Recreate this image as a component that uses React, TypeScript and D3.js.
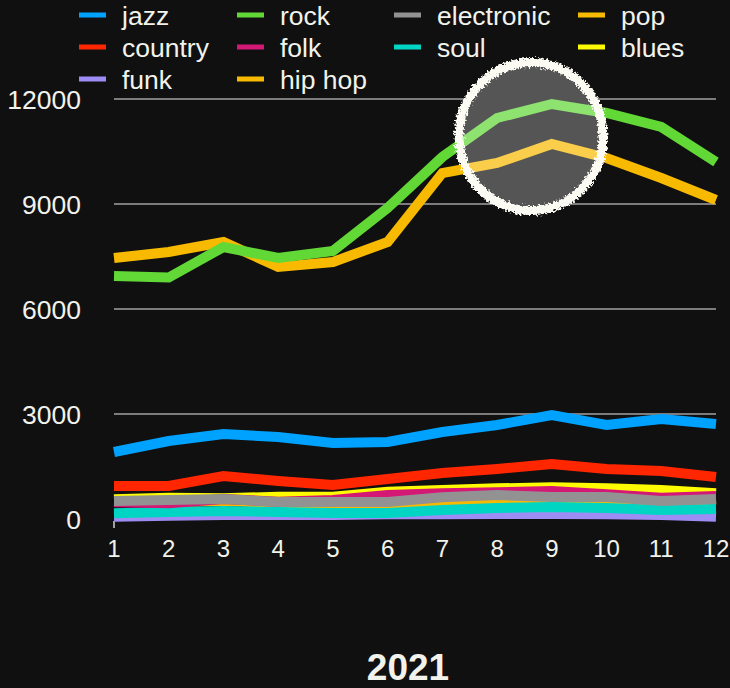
import React from "react";
import * as d3 from "d3";

const months = [1, 2, 3, 4, 5, 6, 7, 8, 9, 10, 11, 12];
const yTicks = [0, 3000, 6000, 9000, 12000];
const gridTicks = [3000, 6000, 9000, 12000];
const title = "2021";

const jazz = [1914, 2229, 2429, 2343, 2171, 2200, 2486, 2686, 2971, 2686, 2857, 2714];
const rock = [6943, 6900, 7771, 7457, 7657, 8886, 10343, 11457, 11857, 11600, 11200, 10200];
const electronic = [514, 543, 571, 486, 486, 486, 620, 686, 629, 629, 514, 571];
const pop = [7457, 7629, 7914, 7200, 7343, 7914, 9886, 10171, 10714, 10314, 9743, 9114];
const country = [943, 943, 1229, 1086, 971, 1143, 1314, 1429, 1571, 1429, 1371, 1200];
const folk = [476, 448, 571, 495, 543, 686, 733, 762, 800, 705, 610, 657];
const soul = [162, 200, 229, 200, 171, 171, 257, 314, 343, 314, 257, 286];
const blues = [562, 610, 590, 638, 638, 781, 829, 876, 905, 876, 829, 733];
const funk = [67, 95, 114, 114, 114, 133, 133, 143, 143, 133, 114, 67];
const hiphop = [500, 480, 520, 450, 430, 420, 430, 500, 560, 520, 470, 560];

const seriesNames = ["jazz", "rock", "electronic", "pop", "country", "folk", "soul", "blues", "funk", "hip hop"];
const seriesValues = [jazz, rock, electronic, pop, country, folk, soul, blues, funk, hiphop];
const seriesColors = ["#00a2ff", "#61d836", "#929292", "#f8ba00", "#ff2600", "#d41876", "#00d5c4", "#fffb00", "#9e8cf5", "#f8ba00"];

const W = 730;
const H = 688;
const FONT = "'Liberation Sans', Helvetica, Arial, sans-serif";

export default function App() {
  const x = d3.scaleLinear().domain([1, 12]).range([114, 716]);
  const y = d3.scaleLinear().domain([0, 12000]).range([519, 99]);
  const line = d3
    .line<number>()
    .x((_, i) => x(months[i]))
    .y((d) => y(d));

  const legendColX = [79, 237, 394, 578];
  const legendRowY = [15, 47, 79];

  const drawOrder = seriesNames.map((_, i) => i).reverse();

  const hx = 531;
  const hy = 136.5;
  const hrx = 72;
  const hry = 74;

  return (
    <svg
      width={W}
      height={H}
      style={{ position: "absolute", left: 0, top: 0, display: "block", background: "#101010" }}
    >
      <defs>
        <filter id="rough" x="-20%" y="-20%" width="140%" height="140%">
          <feTurbulence type="fractalNoise" baseFrequency="0.45" numOctaves="2" seed="3" result="noise" />
          <feDisplacementMap in="SourceGraphic" in2="noise" scale="7" xChannelSelector="R" yChannelSelector="G" />
        </filter>
      </defs>
      <rect x={0} y={0} width={W} height={H} fill="#101010" />

      {gridTicks.map((t) => (
        <line key={t} x1={114} x2={716} y1={y(t)} y2={y(t)} stroke="#a0a0a0" strokeWidth={1.5} />
      ))}
      <line x1={114} x2={114} y1={521} y2={528} stroke="#cfcfcf" strokeWidth={1.5} />

      {yTicks.map((t) => (
        <text
          key={t}
          x={81}
          y={y(t) + 9.5}
          textAnchor="end"
          fontFamily={FONT}
          fontSize={26.5}
          fill="#f2f2ec"
        >
          {t}
        </text>
      ))}

      {months.map((m) => (
        <text
          key={m}
          x={x(m)}
          y={557}
          textAnchor="middle"
          fontFamily={FONT}
          fontSize={24}
          fill="#f2f2ec"
        >
          {m}
        </text>
      ))}

      <ellipse cx={hx} cy={hy} rx={hrx} ry={hry} fill="#101010" />

      {drawOrder.map((i) => (
        <path
          key={seriesNames[i]}
          d={line(seriesValues[i]) || ""}
          fill="none"
          stroke={seriesColors[i]}
          strokeWidth={10}
          strokeLinejoin="miter"
          strokeLinecap="butt"
        />
      ))}

      <ellipse cx={hx} cy={hy} rx={hrx} ry={hry} fill="#ffffff" fillOpacity={0.29} />
      <ellipse
        cx={hx}
        cy={hy}
        rx={hrx}
        ry={hry}
        fill="none"
        stroke="#fbfbf3"
        strokeWidth={9}
        filter="url(#rough)"
      />

      {seriesNames.map((name, i) => {
        const cx = legendColX[i % 4];
        const cy = legendRowY[Math.floor(i / 4)];
        return (
          <g key={name}>
            <rect x={cx} y={cy - 2.5} width={27} height={5} fill={seriesColors[i]} />
            <text x={cx + 43} y={cy + 10} fontFamily={FONT} fontSize={26.5} fill="#f2f2ec">
              {name}
            </text>
          </g>
        );
      })}

      <text
        x={408}
        y={680}
        textAnchor="middle"
        fontFamily={FONT}
        fontSize={37}
        fontWeight="bold"
        fill="#f2f2ec"
      >
        {title}
      </text>
    </svg>
  );
}
